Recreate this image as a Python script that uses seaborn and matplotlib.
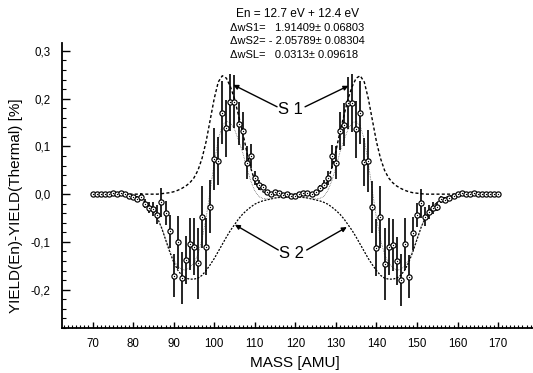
import numpy as np
import pandas as pd
import matplotlib
matplotlib.use("Agg")
import matplotlib.pyplot as plt
import seaborn as sns
from matplotlib.ticker import MultipleLocator, FuncFormatter

# ---------------- data (one row per decade of mass) ----------------
mass = list(range(70, 171))

yield_diff = [
    0.000, 0.000, 0.001, 0.000, 0.001, 0.002, 0.001, 0.002, 0.000, -0.004,
    -0.006, -0.010, -0.005, -0.020, -0.028, -0.031, -0.043, -0.017, -0.040, -0.078,
    -0.171, -0.101, -0.176, -0.138, -0.104, -0.110, -0.145, -0.047, -0.110, -0.026,
    0.073, 0.070, 0.171, 0.138, 0.192, 0.194, 0.147, 0.133, 0.066, 0.080,
    0.034, 0.019, 0.015, 0.004, 0.001, 0.004, 0.002, -0.002, 0.000, -0.004,
    -0.003, 0.000, 0.003, 0.002, 0.001, 0.005, 0.013, 0.020, 0.034, 0.079,
    0.066, 0.133, 0.145, 0.191, 0.191, 0.136, 0.171, 0.068, 0.070, -0.027,
    -0.112, -0.048, -0.146, -0.110, -0.106, -0.140, -0.180, -0.104, -0.173, -0.082,
    -0.043, -0.019, -0.047, -0.038, -0.029, -0.026, -0.011, -0.013, -0.008, -0.004,
    0.000, 0.002, 0.001, 0.000, 0.002, 0.001, 0.000, 0.000, 0.000, 0.000,
    0.000,
]

yield_err = [
    0.002, 0.002, 0.002, 0.002, 0.002, 0.002, 0.002, 0.002, 0.002, 0.004,
    0.005, 0.006, 0.008, 0.010, 0.012, 0.015, 0.020, 0.030, 0.025, 0.035,
    0.045, 0.055, 0.055, 0.050, 0.055, 0.060, 0.075, 0.065, 0.060, 0.055,
    0.065, 0.050, 0.065, 0.060, 0.060, 0.055, 0.045, 0.040, 0.035, 0.025,
    0.015, 0.010, 0.006, 0.003, 0.003, 0.003, 0.003, 0.003, 0.003, 0.003,
    0.003, 0.003, 0.003, 0.003, 0.003, 0.003, 0.006, 0.010, 0.015, 0.025,
    0.035, 0.040, 0.045, 0.055, 0.060, 0.060, 0.065, 0.050, 0.065, 0.055,
    0.060, 0.065, 0.075, 0.060, 0.055, 0.050, 0.055, 0.055, 0.045, 0.035,
    0.025, 0.030, 0.020, 0.015, 0.012, 0.010, 0.008, 0.006, 0.005, 0.004,
    0.002, 0.002, 0.002, 0.002, 0.002, 0.002, 0.002, 0.002, 0.002, 0.002,
    0.002,
]

s1_curve = [
    0.000, 0.000, 0.000, 0.000, 0.000, 0.000, 0.000, 0.000, 0.000, 0.000,
    0.000, 0.000, 0.000, 0.000, 0.000, 0.000, 0.000, 0.001, 0.002, 0.003,
    0.005, 0.008, 0.012, 0.017, 0.024, 0.034, 0.050, 0.075, 0.110, 0.155,
    0.200, 0.235, 0.248, 0.243, 0.225, 0.200, 0.165, 0.130, 0.090, 0.055,
    0.028, 0.012, 0.005, 0.002, 0.000, 0.000, 0.000, 0.000, 0.000, 0.000,
    0.000, 0.000, 0.000, 0.000, 0.000, 0.002, 0.005, 0.012, 0.028, 0.055,
    0.090, 0.130, 0.165, 0.200, 0.225, 0.243, 0.248, 0.235, 0.200, 0.155,
    0.110, 0.075, 0.050, 0.034, 0.024, 0.017, 0.012, 0.008, 0.005, 0.003,
    0.002, 0.001, 0.000, 0.000, 0.000, 0.000, 0.000, 0.000, 0.000, 0.000,
    0.000, 0.000, 0.000, 0.000, 0.000, 0.000, 0.000, 0.000, 0.000, 0.000,
    0.000,
]

s2_curve = [
    0.000, 0.000, 0.000, 0.000, 0.000, 0.000, 0.000, 0.000, -0.001, -0.002,
    -0.004, -0.007, -0.011, -0.017, -0.025, -0.036, -0.050, -0.070, -0.095, -0.120,
    -0.142, -0.159, -0.170, -0.176, -0.178, -0.178, -0.176, -0.170, -0.160, -0.148,
    -0.135, -0.120, -0.105, -0.090, -0.076, -0.064, -0.052, -0.042, -0.034, -0.027,
    -0.021, -0.017, -0.014, -0.012, -0.010, -0.008, -0.007, -0.006, -0.006, -0.006,
    -0.006, -0.006, -0.007, -0.008, -0.010, -0.012, -0.014, -0.017, -0.021, -0.027,
    -0.034, -0.042, -0.052, -0.064, -0.076, -0.090, -0.105, -0.120, -0.135, -0.148,
    -0.160, -0.170, -0.176, -0.178, -0.178, -0.176, -0.170, -0.159, -0.142, -0.120,
    -0.095, -0.070, -0.050, -0.036, -0.025, -0.017, -0.011, -0.007, -0.004, -0.002,
    -0.001, 0.000, 0.000, 0.000, 0.000, 0.000, 0.000, 0.000, 0.000, 0.000,
    0.000,
]

total_fit = [
    0.000, 0.000, 0.000, 0.000, 0.000, 0.000, 0.000, 0.000, -0.001, -0.002,
    -0.004, -0.007, -0.011, -0.017, -0.025, -0.036, -0.050, -0.069, -0.093, -0.117,
    -0.137, -0.151, -0.158, -0.159, -0.154, -0.144, -0.126, -0.095, -0.050, 0.007,
    0.065, 0.115, 0.143, 0.153, 0.149, 0.136, 0.113, 0.088, 0.056, 0.028,
    0.007, -0.005, -0.009, -0.010, -0.010, -0.008, -0.007, -0.006, -0.006, -0.006,
    -0.006, -0.006, -0.007, -0.008, -0.010, -0.010, -0.009, -0.005, 0.007, 0.028,
    0.056, 0.088, 0.113, 0.136, 0.149, 0.153, 0.143, 0.115, 0.065, 0.007,
    -0.050, -0.095, -0.126, -0.144, -0.154, -0.159, -0.158, -0.151, -0.137, -0.117,
    -0.093, -0.069, -0.050, -0.036, -0.025, -0.017, -0.011, -0.007, -0.004, -0.002,
    -0.001, 0.000, 0.000, 0.000, 0.000, 0.000, 0.000, 0.000, 0.000, 0.000,
    0.000,
]

x_ticks = [70, 80, 90, 100, 110, 120, 130, 140, 150, 160, 170]
y_ticks = [-0.2, -0.1, 0.0, 0.1, 0.2, 0.3]

header_lines = [
    "ΔwS1=   1.91409± 0.06803",
    "ΔwS2= - 2.05789± 0.08304",
    "ΔwSL=   0.0313± 0.09618",
]
energy_line = "En = 12.7 eV + 12.4 eV"

n = min(len(mass), len(yield_diff), len(yield_err), len(s1_curve), len(s2_curve), len(total_fit))
df = pd.DataFrame({"mass": mass[:n], "y": yield_diff[:n], "err": yield_err[:n],
                   "s1": s1_curve[:n], "s2": s2_curve[:n], "fit": total_fit[:n]})

# ---------------- style ----------------
sns.set_theme(style="ticks")
plt.rcParams['font.family'] = ['Liberation Sans', 'DejaVu Sans']

W, H = 533, 373
fig = plt.figure(figsize=(W / 100, H / 100), dpi=100)
fig.patch.set_facecolor("white")
ax_l, ax_r, ax_b, ax_t = 61.7, 533, 328.3, 43.3
ax = fig.add_axes([ax_l / W, 1 - ax_b / H, (ax_r - ax_l) / W, (ax_b - ax_t) / H])
ax.set_facecolor("white")

# curves
sns.lineplot(data=df, x="mass", y="s1", ax=ax, color="black", lw=1.0,
             linestyle=(0, (2.2, 1.6)), zorder=2)
sns.lineplot(data=df, x="mass", y="s2", ax=ax, color="black", lw=0.9,
             linestyle=(0, (1.6, 1.2)), zorder=2)
sns.lineplot(data=df, x="mass", y="fit", ax=ax, color="#555555", lw=0.6,
             linestyle=(0, (0.8, 1.2)), zorder=2)

# error bars
ax.errorbar(df["mass"], df["y"], yerr=df["err"], fmt="none", ecolor="black",
            elinewidth=1.2, capsize=0, zorder=3)

# data points (open circle with centre dot)
sns.scatterplot(data=df, x="mass", y="y", ax=ax, marker="o", s=14,
                facecolor="white", edgecolor="black", linewidth=0.85, zorder=4)
sns.scatterplot(data=df, x="mass", y="y", ax=ax, marker="o", s=0.9,
                color="black", linewidth=0, zorder=5)

# axes limits and ticks
ax.set_xlim(62.4, 178.6)
ax.set_ylim(-0.281, 0.316)
ax.set_xticks(x_ticks)
ax.set_yticks(y_ticks)
ax.xaxis.set_minor_locator(MultipleLocator(1))
ax.yaxis.set_minor_locator(MultipleLocator(0.02))
ax.yaxis.set_major_formatter(FuncFormatter(
    lambda v, p: f"{v:.1f}".replace(".", ",").replace("-0,0", "0,0")))
ax.tick_params(axis="both", which="both", direction="in", color="black",
               labelcolor="black", labelsize=8.3)
ax.tick_params(axis="y", which="major", length=5.5, width=1.0, pad=8)
ax.tick_params(axis="y", which="minor", length=3, width=0.8)
ax.tick_params(axis="x", which="major", length=4, width=1.0, pad=7)
ax.tick_params(axis="x", which="minor", length=2, width=0.8)
for side in ["top", "right"]:
    ax.spines[side].set_visible(False)
for side in ["left", "bottom"]:
    ax.spines[side].set_linewidth(1.3)
    ax.spines[side].set_color("black")
ax.set_xlabel("")
ax.set_ylabel("")
ax.grid(False)

fig.text(16 / W, 1 - 206 / H, "YIELD(En)-YIELD(Thermal) [%]", rotation=90,
         ha="center", va="center", fontsize=11, color="black")
fig.text(295 / W, 1 - 363 / H, "MASS [AMU]", ha="center", va="center",
         fontsize=11, color="black")

# header text
fig.text(298 / W, 1 - 14 / H, energy_line, ha="center", va="center",
         fontsize=8.6, color="black")
for i, line in enumerate(header_lines):
    fig.text(230 / W, 1 - (27.7 + 13.7 * i) / H, line, ha="left", va="center",
             fontsize=8, color="black")

# S1 / S2 annotations
ax.text(118.7, 0.177, "S 1", ha="center", va="center", fontsize=12, color="black")
ax.text(119.1, -0.125, "S 2", ha="center", va="center", fontsize=12, color="black")
arrow = dict(arrowstyle="-|>", color="black", lw=1.0, mutation_scale=7,
             shrinkA=0, shrinkB=0)
ax.annotate("", xy=(104.7, 0.229), xytext=(115.5, 0.183), arrowprops=arrow)
ax.annotate("", xy=(133.1, 0.227), xytext=(122.4, 0.183), arrowprops=arrow)
ax.annotate("", xy=(105.1, -0.064), xytext=(115.8, -0.117), arrowprops=arrow)
ax.annotate("", xy=(132.7, -0.069), xytext=(122.8, -0.117), arrowprops=arrow)

fig.savefig("out.png", dpi=100, facecolor="white")
